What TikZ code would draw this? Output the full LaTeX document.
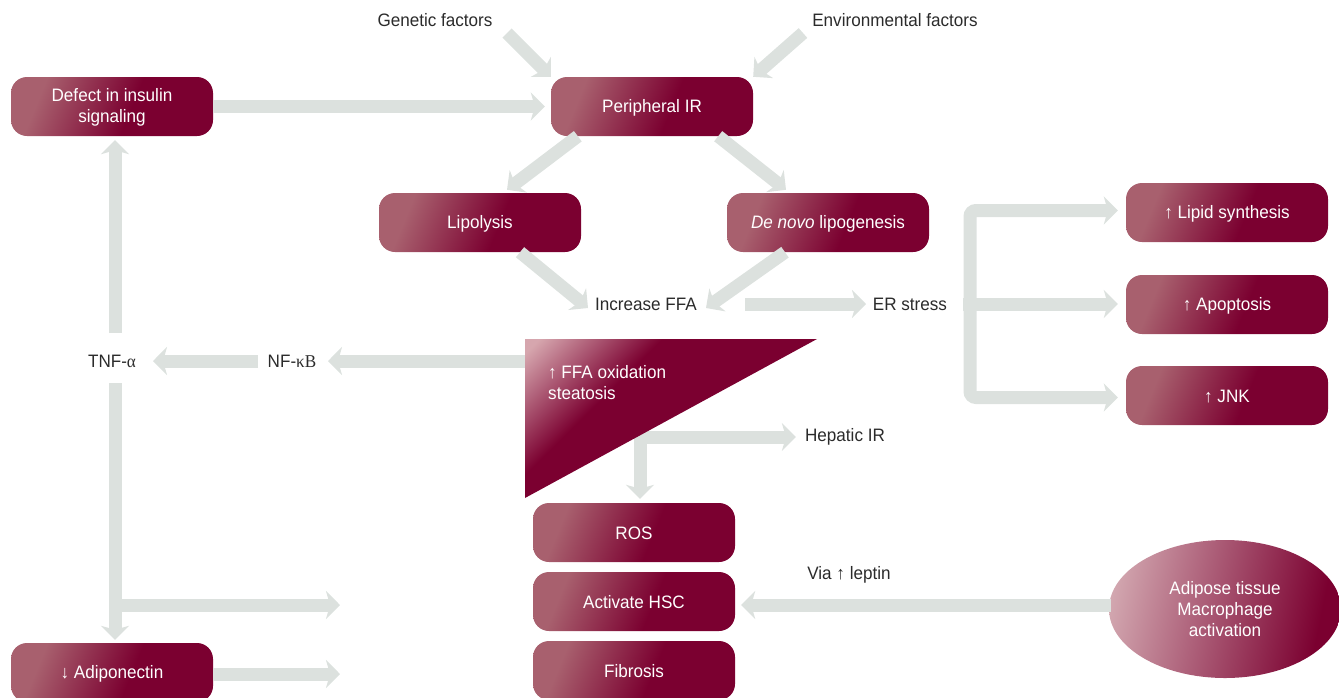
\documentclass[tikz,border=0pt]{standalone}
\usepackage{fontspec}
\setmainfont{Liberation Sans}[FakeStretch=0.95]
\newfontfamily\grk{Liberation Serif}[FakeStretch=0.95]
\usetikzlibrary{arrows.meta,shapes.geometric,calc}
\definecolor{arr}{HTML}{DCE1DE}
\definecolor{txt}{HTML}{2B2B2B}
\newcommand\mystrut{\rule[-1.5pt]{0pt}{17pt}}
% box: light top-left -> dark maroon
\pgfdeclarefunctionalshading{boxfun}{\pgfpointorigin}{\pgfpoint{100bp}{100bp}}{}{
  75 exch sub 50 div 0.12 mul exch 25 sub 50 div add 0.18 sub 0.48 div
  dup 1 gt {pop 1} if dup 0 lt {pop 0} if
  dup dup -0.177 mul 0.659 add 3 1 roll -0.376 mul 0.376 add exch -0.243 mul 0.431 add
}
\pgfdeclarefunctionalshading{trifun}{\pgfpointorigin}{\pgfpoint{100bp}{100bp}}{}{
  75 exch sub 50 div 0.55 mul exch 25 sub 50 div add 0.05 sub 0.42 div
  dup 1 gt {pop 1} if dup 0 lt {pop 0} if
  dup dup -0.357 mul 0.839 add 3 1 roll -0.651 mul 0.651 add exch -0.494 mul 0.682 add
}
\pgfdeclarefunctionalshading{ellfun}{\pgfpointorigin}{\pgfpoint{100bp}{100bp}}{}{
  75 exch sub 50 div 0.12 mul exch 25 sub 50 div add 0.98 div
  dup 1 gt {pop 1} if dup 0 lt {pop 0} if
  dup dup -0.365 mul 0.847 add 3 1 roll -0.698 mul 0.698 add exch -0.534 mul 0.722 add
}
\tikzset{
  pbox/.style={rounded corners=16pt, minimum width=202pt, minimum height=59pt,
    shading=boxfun, text=white, align=center,
    font=\fontsize{18}{21}\selectfont, inner sep=0pt},
  lbl/.style={text=txt, font=\fontsize{18}{21}\selectfont, inner sep=0pt},
  arrline/.style={draw=arr, line width=13pt, -{Stealth[length=14pt,width=28pt,inset=4pt]}}
}
\begin{document}
\begin{tikzpicture}[x=1pt,y=-1pt]
\useasboundingbox (0,0) rectangle (1339,697);
% labels
\node[lbl] (gen) at (435,20) {Genetic factors};
\node[lbl] (env) at (895,20) {Environmental factors};
\node[lbl] (ffa) at (646,304) {Increase FFA};
\node[lbl] (er) at (910,304) {ER stress};
\node[lbl] (tnf) at (112,361) {TNF-{\grk α}};
\node[lbl] (nfkb) at (292,361) {NF-{\grk κB}};
\node[lbl] (hir) at (845,437) {Hepatic IR};
\node[lbl] (lep) at (849,575) {Via ↑ leptin};
% boxes
\node[pbox] (defect) at (112,106.5) {\mystrut Defect in insulin\\\mystrut signaling};
\node[pbox] (pir) at (652,106.5) {\mystrut Peripheral IR};
\node[pbox] (lipo) at (480,222.5) {\mystrut Lipolysis};
\node[pbox] (dnl) at (828,222.5) {\mystrut \textit{De novo} lipogenesis};
\node[pbox] (lipid) at (1227,212.5) {\mystrut ↑ Lipid synthesis};
\node[pbox] (apop) at (1227,304.5) {\mystrut ↑ Apoptosis};
\node[pbox] (jnk) at (1227,395.5) {\mystrut ↑ JNK};
\node[pbox] (ros) at (634,532.5) {\mystrut ROS};
\node[pbox] (hsc) at (634,601.5) {\mystrut Activate HSC};
\node[pbox] (fib) at (634,670.5) {\mystrut Fibrosis};
\node[pbox] (adipo) at (112,672.5) {\mystrut ↓ Adiponectin};
\node[ellipse, minimum width=232pt, minimum height=138pt, inner sep=0pt,
  shading=ellfun, text=white, align=center,
  font=\fontsize{18}{21}\selectfont] (adip) at (1225,609) {Adipose tissue\\Macrophage\\activation};
% coordinates
\coordinate (triA) at (525,339);
\coordinate (triB) at (817,339);
\coordinate (triC) at (525,498);
\coordinate (hj) at (640,437);
\coordinate (erj) at (970,304);
\coordinate (tb) at (340,605);
\coordinate (ab) at (340,674);
% arrows
\draw[arrline] ($(gen)+(72,13)$) -- (pir.north west);
\draw[arrline] ($(env)+(-92,13)$) -- (pir.north east);
\draw[arrline] (defect.east) -- ($(pir.west)+(-6,0)$);
\draw[arrline] ($(pir.south west)+(27,0)$) -- ($(lipo.north)+(27,-3)$);
\draw[arrline] ($(pir.south east)+(-35,0)$) -- ($(dnl.north)+(-42,-3)$);
\draw[arrline] ($(lipo.south)+(40,0)$) -- ($(ffa)+(-58,4)$);
\draw[arrline] ($(dnl.south)+(-43,0)$) -- ($(ffa)+(60,4)$);
\draw[arrline] ($(ffa)+(99,0)$) -- ($(er)+(-44,0)$);
\draw[arrline, rounded corners=6pt] (erj) |- ($(lipid.west)+(-8,-2)$);
\draw[arrline, rounded corners=6pt] (erj) |- ($(jnk.west)+(-8,2)$);
\draw[arrline] ($(erj)+(-7,0)$) -- ($(apop.west)+(-8,-0.5)$);
\draw[arrline] ($(triA)+(0,22)$) -- ($(nfkb)+(36,0)$);
\draw[arrline] ($(nfkb)+(-34,0)$) -- ($(tnf)+(41,0)$);
\draw[arrline] ($(tnf)+(3,-28)$) -- ($(defect.south)+(3,4)$);
\draw[arrline] ($(tnf)+(3,22)$) -- ($(adipo.north)+(3,-3)$);
\draw[arrline] ($(tnf)+(3,244)$) -- (tb);
\draw[arrline] ($(adipo.east)+(0,1.5)$) -- (ab);
\draw[arrline] ($(hj)+(-6,0)$) -- ($(hir.west)+(-9,0)$);
\draw[arrline] ($(hj)+(0,-6)$) -- ($(ros.north)+(6,-4)$);
\draw[arrline] ($(adip.west)+(2,-4)$) -- ($(hsc.east)+(6,3.5)$);
% triangle
\path[shading=trifun] (triA) -- (triB) -- (triC) -- cycle;
\node[text=white, align=left, anchor=north west, inner sep=0pt,
  font=\fontsize{18}{21}\selectfont] (ox) at (548,365) {↑ FFA oxidation\\steatosis};
\end{tikzpicture}
\end{document}
